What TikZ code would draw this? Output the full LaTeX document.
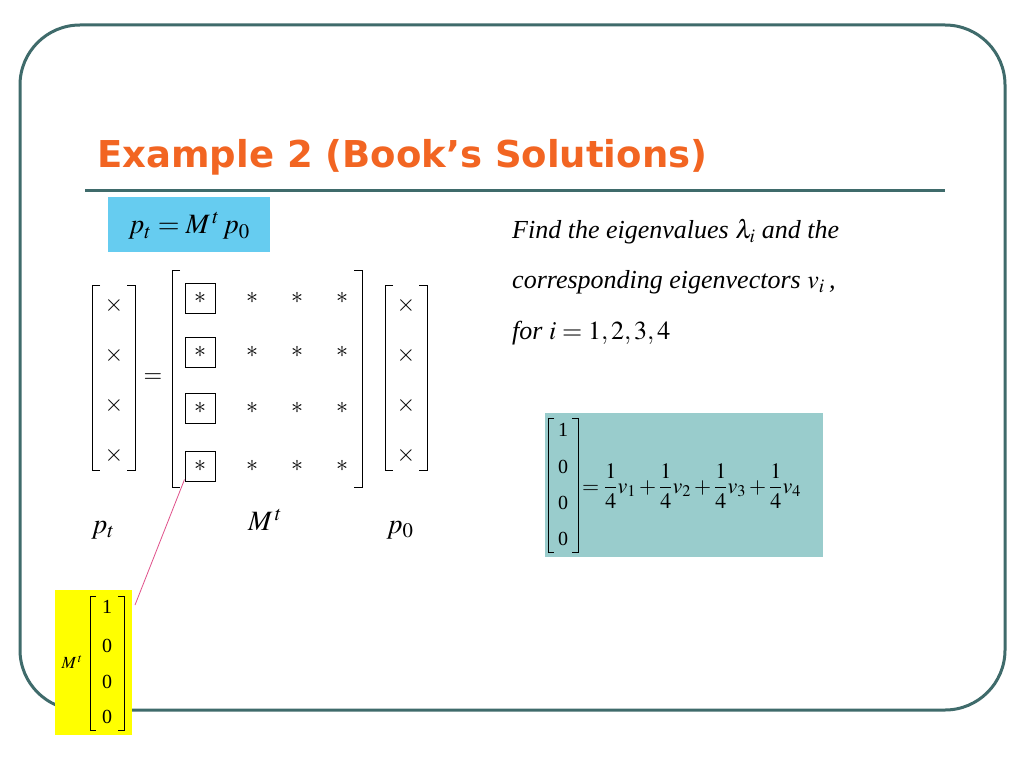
\documentclass[tikz,border=0pt]{standalone}
\usepackage{amsmath}
\usepackage{mathptmx}
\usepackage{fontspec}
\setmainfont{Liberation Serif}
\setsansfont{DejaVu Sans}
\usetikzlibrary{positioning}
\definecolor{frameTeal}{HTML}{3F6B6B}
\definecolor{titleOrange}{HTML}{F26522}
\definecolor{boxBlue}{HTML}{66CCF0}
\definecolor{boxTeal}{HTML}{99CCCC}
\definecolor{boxYellow}{HTML}{FFFF00}
\definecolor{linkPink}{HTML}{E0508A}

\begin{document}
\begin{tikzpicture}[x=1pt,y=-1pt]
\tikzset{Entry/.style={inner sep=0pt, font=\fontsize{24}{28}\selectfont}}
\tikzset{Label/.style={inner sep=0pt, font=\fontsize{28}{32}\selectfont}}
\tikzset{Prose/.style={inner sep=0pt, anchor=west, font=\fontsize{26}{30}\selectfont\itshape}}
\tikzset{Small/.style={inner sep=0pt, font=\fontsize{20}{24}\selectfont}}
\tikzset{Bracket/.style={draw, line width=1pt}}
\tikzset{Marked/.style={draw, line width=1pt, minimum size=30pt, inner sep=0pt}}

\useasboundingbox (0,0) rectangle (1024,768);
\fill[white] (0,0) rectangle (1024,768);
\draw[frameTeal, line width=3pt, rounded corners=60pt] (20,25) rectangle (1005,710);

% title
\node[anchor=west, inner sep=0pt, text=titleOrange,
      font=\fontsize{37}{44}\selectfont\sffamily\bfseries] (title) at (97,157)
      {Example 2 (Book’s Solutions)};
\draw[frameTeal, line width=3pt] (85,190) -- (945,190);

% p_t = M^t p_0
\fill[boxBlue] (108,197) rectangle (270,252);
\node[Label] (eqn) at (189,226) {$p_t = M^{\,t}\, p_0$};

% left vector p_t
\draw[Bracket] (100,285) -- (92,285) -- (92,470) -- (100,470);
\draw[Bracket] (127,285) -- (135,285) -- (135,470) -- (127,470);
\foreach \y [count=\i] in {305,355,405,455}
  \node[Entry] (pt\i) at (114,\y) {$\times$};
\node[Entry] (equal) at (153,378) {$=$};

% matrix M^t
\draw[Bracket] (180,270) -- (172,270) -- (172,487) -- (180,487);
\draw[Bracket] (354,270) -- (362,270) -- (362,487) -- (354,487);
\foreach \y [count=\i] in {298,352,408,466} {
  \node[Entry, Marked] (m\i) at (200,\y) {$*$};
  \node[Entry] (ma\i) at (252,\y) {$*$};
  \node[Entry] (mb\i) at (297,\y) {$*$};
  \node[Entry] (mc\i) at (342,\y) {$*$};
}

% right vector p_0
\draw[Bracket] (393,285) -- (385,285) -- (385,470) -- (393,470);
\draw[Bracket] (419,285) -- (427,285) -- (427,470) -- (419,470);
\foreach \y [count=\i] in {305,355,405,455}
  \node[Entry] (pz\i) at (406,\y) {$\times$};

% labels under the matrices
\node[Label] (lpt) at (103,530) {$p_t$};
\node[Label] (lM) at (265,520) {$M^{\,t}$};
\node[Label] (lpz) at (400,530) {$p_0$};

% first column times e_1
\fill[boxYellow] (55,590) rectangle (132,735);
\node[Small, font=\fontsize{17}{20}\selectfont] (yM) at (72,662) {$M^{\,t}$};
\draw[Bracket] (96,596) -- (90,596) -- (90,730) -- (96,730);
\draw[Bracket] (118,596) -- (124,596) -- (124,730) -- (118,730);
\foreach \v/\y [count=\i] in {1/607,0/646,0/682,0/717}
  \node[Small] (e\i) at (107,\y) {\v};
\coordinate (linkEnd) at (135,605);
\draw[linkPink, line width=0.8pt] (m4.south west) ++(0,-2) -- (linkEnd);

% question text
\node[Prose] (q1) at (512,232) {Find the eigenvalues $\lambda_i$ and the};
\node[Prose] (q2) at (512,282) {corresponding eigenvectors $v_i$\,,};
\node[Prose] (q3) at (512,333) {for $i = 1, 2, 3, 4$};

% decomposition box
\fill[boxTeal] (545,413) rectangle (823,557);
\draw[Bracket] (554,418) -- (548,418) -- (548,552) -- (554,552);
\draw[Bracket] (572,418) -- (578,418) -- (578,552) -- (572,552);
\foreach \v/\y [count=\i] in {1/430,0/467,0/503,0/539}
  \node[Small] (d\i) at (563,\y) {\v};
\node[Small, anchor=west, font=\fontsize{22}{26}\selectfont] (sum) at (582,486)
  {$=\dfrac{1}{4}v_1+\dfrac{1}{4}v_2+\dfrac{1}{4}v_3+\dfrac{1}{4}v_4$};
\end{tikzpicture}
\end{document}
